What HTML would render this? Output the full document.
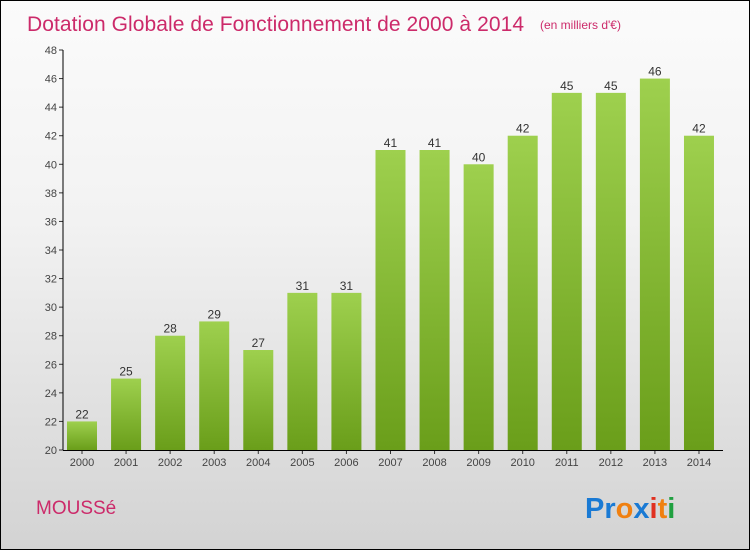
<!DOCTYPE html>
<html><head><meta charset="utf-8"><style>
body{margin:0}
#c{position:relative;width:748px;height:548px;border:1px solid #000;background:linear-gradient(#fbfbfb,#f2f2f2 40%,#d3d3d3);font-family:"Liberation Sans",sans-serif;overflow:hidden}
</style></head><body>
<div id="c">
<svg width="748" height="548">
<defs><linearGradient id="g" x1="0" y1="0" x2="0" y2="1"><stop offset="0" stop-color="#9ed04e"/><stop offset="1" stop-color="#6a9e1a"/></linearGradient></defs>
<text x="26" y="30" font-size="21" fill="#cc2a6a" textLength="497">Dotation Globale de Fonctionnement de 2000 à 2014</text>
<text x="539" y="28" font-size="12" fill="#cc2a6a">(en milliers d'€)</text>
<g id="plot"></g>
<text x="35" y="513" font-size="19" fill="#cc2a6a">MOUSSé</text>
<g font-size="29" font-weight="bold" font-family="'Liberation Sans',sans-serif">
<text x="584" y="517"><tspan fill="#1a7ad4">Pr</tspan><tspan fill="#f08010">o</tspan><tspan fill="#1a7ad4">x</tspan><tspan fill="#e03020">i</tspan><tspan fill="#f08010">t</tspan><tspan fill="#20a040">i</tspan></text></g>
</svg></div>
<script>
const categories=["2000","2001","2002","2003","2004","2005","2006","2007","2008","2009","2010","2011","2012","2013","2014"];
const values=[22,25,28,29,27,31,31,41,41,40,42,45,45,46,42];
const ticks=[20,22,24,26,28,30,32,34,36,38,40,42,44,46,48];
const NS="http://www.w3.org/2000/svg",g=document.getElementById('plot');
const y=v=>449-(v-20)*(400/28), x=i=>81+i*44.07;
function mk(t,a,txt){const e=document.createElementNS(NS,t);for(const k in a)e.setAttribute(k,a[k]);if(txt!=null)e.textContent=txt;g.appendChild(e);return e;}
ticks.forEach(t=>{const yy=y(t);
const l=mk('line',{x1:58,x2:62,y1:yy,y2:yy,stroke:'#333'});


const s=mk('text',{x:56,y:yy+4,'font-size':11,fill:'#444','text-anchor':'end'},t);

});
values.forEach((v,i)=>{const cx=x(i);
const r=mk('rect',{x:cx-15,y:y(v),width:30,height:y(20)-y(v),fill:'url(#g)'});


const vl=mk('text',{x:cx,y:y(v)-3,'font-size':12,fill:'#333','text-anchor':'middle'},v);


const tk=mk('line',{x1:cx,x2:cx,y1:449,y2:453,stroke:'#333'});


const xl=mk('text',{x:cx,y:465,'font-size':11,fill:'#444','text-anchor':'middle'},categories[i]);

});
const ya=mk('line',{x1:62,x2:62,y1:y(48),y2:449,stroke:'#000'});


const xa=mk('line',{x1:62,x2:722,y1:449.5,y2:449.5,stroke:'#000'});


</script>
</body></html>
